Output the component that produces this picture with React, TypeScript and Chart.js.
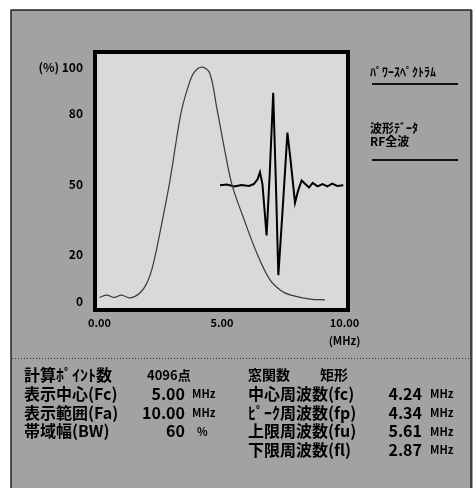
import React, { useEffect, useRef } from "react";
import { Chart, registerables } from "chart.js";

Chart.register(...registerables);

// Power spectrum (MHz, %)
const spectrumX = [0.0, 0.3, 0.6, 0.9, 1.24, 1.65, 1.95, 2.2, 2.54, 2.88, 3.32, 3.6, 3.85, 4.18, 4.5, 4.78, 5.11, 5.4, 5.86, 6.42, 6.96, 7.4, 7.78, 8.6, 9.2];
const spectrumY = [1.5, 2.5, 1.5, 2.5, 1.3, 3.4, 8, 16, 33, 51.7, 80, 91, 97.5, 100, 97.4, 83, 64.5, 50, 36, 20.5, 9, 4.5, 2.6, 0.8, 0.5];

// RF waveform drawn on the same axes (centre line at 50 %)
const waveX = [4.92, 5.2, 5.5, 5.8, 6.1, 6.3, 6.45, 6.55, 6.65, 6.82, 6.95, 7.09, 7.2, 7.3, 7.48, 7.67, 7.8, 7.98, 8.1, 8.25, 8.4, 8.55, 8.7, 8.9, 9.1, 9.3, 9.5, 9.7, 9.95];
const waveY = [49.5, 49.8, 49.0, 49.6, 49.2, 50.0, 52, 55, 50, 28, 55, 89, 50, 11, 40, 72, 60, 42, 47, 51.5, 50, 48.5, 50.5, 49, 50, 49, 50.2, 49.2, 49.5];

const yTickValues = [0, 20, 50, 80, 100];
const xTickValues = [0, 5, 10];
const xTickLabels = ["0.00", "5.00", "10.00"];

const sideLabels = ["ﾊﾟﾜｰｽﾍﾟｸﾄﾗﾑ", "波形ﾃﾞｰﾀ", "RF全波"];

const leftLabels = ["計算ﾎﾟｲﾝﾄ数", "表示中心(Fc)", "表示範囲(Fa)", "帯域幅(BW)"];
const leftValues = ["4096点", "5.00", "10.00", "60"];
const leftUnits = ["", "MHz", "MHz", "%"];

const rightLabels = ["窓関数", "中心周波数(fc)", "ﾋﾟｰｸ周波数(fp)", "上限周波数(fu)", "下限周波数(fl)"];
const rightValues = ["矩形", "4.24", "4.34", "5.61", "2.87"];
const rightUnits = ["", "MHz", "MHz", "MHz", "MHz"];

const FONT = "'Noto Sans CJK JP', 'Noto Sans', sans-serif";

export default function App() {
  const ref = useRef<HTMLCanvasElement | null>(null);

  useEffect(() => {
    document.body.style.margin = "0";
    const canvas = ref.current;
    if (!canvas) return;

    const panel = {
      id: "panel",
      beforeDraw(chart: any) {
        const ctx = chart.ctx;
        const a = chart.chartArea;
        ctx.save();
        ctx.fillStyle = "#ffffff";
        ctx.fillRect(0, 0, 473, 488);
        ctx.fillStyle = "#a2a2a2";
        ctx.fillRect(11, 10, 462, 478);
        ctx.strokeStyle = "#222";
        ctx.lineWidth = 1.5;
        ctx.strokeRect(11, 10, 460, 490);
        ctx.fillStyle = "#d9d9d9";
        ctx.fillRect(a.left, a.top, a.right - a.left, a.bottom - a.top);
        ctx.restore();
      },
      afterDatasetsDraw(chart: any) {
        const ctx = chart.ctx;
        const a = chart.chartArea;
        ctx.save();
        ctx.strokeStyle = "#000";
        ctx.lineWidth = 4;
        ctx.strokeRect(a.left - 2, a.top - 2, a.right - a.left + 4, a.bottom - a.top + 4);
        ctx.restore();
      },
      afterDraw(chart: any) {
        const ctx = chart.ctx;
        ctx.save();
        ctx.fillStyle = "#000";
        ctx.textBaseline = "middle";
        // side labels
        ctx.font = `bold 12px ${FONT}`;
        ctx.textAlign = "left";
        ctx.fillText(sideLabels[0], 370, 72);
        ctx.fillText(sideLabels[1], 370, 128);
        ctx.fillText(sideLabels[2], 370, 141);
        ctx.strokeStyle = "#111";
        ctx.lineWidth = 2;
        ctx.beginPath();
        ctx.moveTo(372, 84);
        ctx.lineTo(458, 84);
        ctx.moveTo(372, 160);
        ctx.lineTo(458, 160);
        ctx.stroke();

        // dotted separator
        ctx.strokeStyle = "#333";
        ctx.lineWidth = 1;
        ctx.setLineDash([1, 2]);
        ctx.beginPath();
        ctx.moveTo(12, 358.5);
        ctx.lineTo(471, 358.5);
        ctx.stroke();
        ctx.setLineDash([]);

        const rowY = (i: number) => 375 + i * 18.8;
        // left column
        for (let i = 0; i < leftLabels.length; i++) {
          const y = rowY(i);
          ctx.font = `bold 16px ${FONT}`;
          ctx.textAlign = "left";
          ctx.fillText(leftLabels[i], 24, y);
          if (i === 0) {
            ctx.font = `bold 13px ${FONT}`;
            ctx.fillText(leftValues[i], 147, y);
          } else {
            ctx.textAlign = "right";
            ctx.fillText(leftValues[i], 185, y);
            ctx.textAlign = "left";
            ctx.font = `bold 11px ${FONT}`;
            ctx.fillText(leftUnits[i], leftUnits[i] === "%" ? 197 : 192, y);
          }
        }
        // right column
        for (let i = 0; i < rightLabels.length; i++) {
          const y = rowY(i);
          ctx.font = `bold 16px ${FONT}`;
          ctx.textAlign = "left";
          if (i === 0) {
            ctx.font = `bold 14px ${FONT}`;
            ctx.fillText(rightLabels[i], 248, y);
            ctx.fillText(rightValues[i], 320, y);
          } else {
            ctx.fillText(rightLabels[i], 248, y);
            ctx.textAlign = "right";
            ctx.fillText(rightValues[i], 422, y);
            ctx.textAlign = "left";
            ctx.font = `bold 11px ${FONT}`;
            ctx.fillText(rightUnits[i], 430, y);
          }
        }
        ctx.restore();
      },
    };

    const chart = new Chart(canvas, {
      type: "line",
      data: {
        datasets: [
          {
            label: "spectrum",
            data: spectrumX.map((x, i) => ({ x, y: spectrumY[i] })),
            borderColor: "#3a3a3a",
            borderWidth: 1.2,
            pointRadius: 0,
            tension: 0.35,
            fill: false,
          },
          {
            label: "wave",
            data: waveX.map((x, i) => ({ x, y: waveY[i] })),
            borderColor: "#000",
            borderWidth: 2,
            pointRadius: 0,
            tension: 0,
            fill: false,
          },
        ],
      },
      options: {
        responsive: false,
        animation: false,
        events: [],
        layout: { padding: { left: 0, right: 127, top: 54, bottom: 0 } },
        plugins: { legend: { display: false }, tooltip: { enabled: false } },
        scales: {
          x: {
            type: "linear",
            min: -0.1,
            max: 10.06,
            afterFit: (s: any) => {
              s.height = 180;
            },
            afterBuildTicks: (s: any) => {
              s.ticks = xTickValues.map((v) => ({ value: v }));
            },
            grid: { display: false, drawTicks: false },
            border: { display: false },
            ticks: {
              autoSkip: false,
              maxRotation: 0,
              padding: 6,
              color: "#000",
              font: { family: FONT, size: 11, weight: "bold", lineHeight: 1.6 },
              callback: (v: any) => {
                const i = xTickValues.indexOf(Number(v));
                if (i < 0) return "";
                return i === 2 ? [xTickLabels[i], "(MHz)"] : xTickLabels[i];
              },
            },
          },
          y: {
            type: "linear",
            min: -3,
            max: 105.6,
            afterFit: (s: any) => {
              s.width = 97;
            },
            afterBuildTicks: (s: any) => {
              s.ticks = yTickValues.map((v) => ({ value: v }));
            },
            grid: { display: false, drawTicks: false },
            border: { display: false },
            ticks: {
              autoSkip: false,
              padding: 14,
              color: "#000",
              font: { family: FONT, size: 12, weight: "bold" },
              callback: (v: any) => (Number(v) === 100 ? "(%) 100" : String(v)),
            },
          },
        },
      },
      plugins: [panel],
    } as any);

    return () => chart.destroy();
  }, []);

  return (
    <div style={{ width: 473, height: 488 }}>
      <canvas ref={ref} width={473} height={488} style={{ display: "block" }} />
    </div>
  );
}
